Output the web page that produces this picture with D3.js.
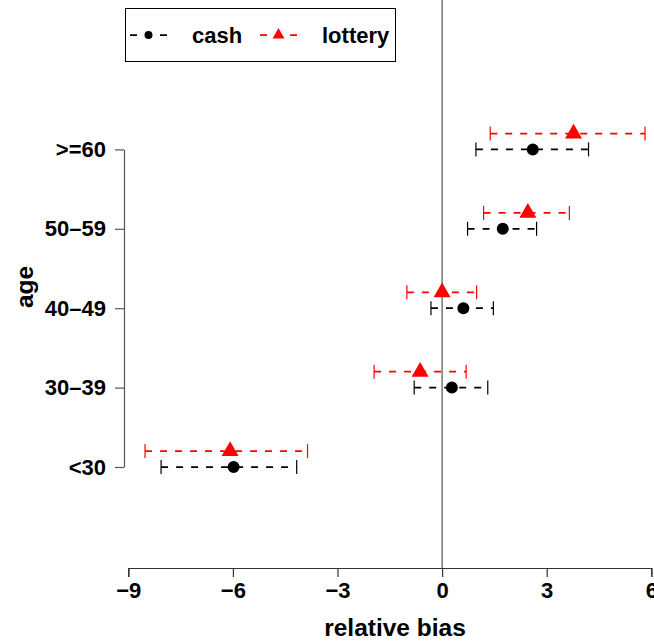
<!DOCTYPE html>
<html>
<head>
<meta charset="utf-8">
<script src="https://cdn.jsdelivr.net/npm/d3@7"></script>
<style>
  html, body { margin: 0; padding: 0; background: #fff; }
  svg text { font-family: "Liberation Sans", Arial, Helvetica, sans-serif; font-weight: bold; }
</style>
</head>
<body>
<svg id="chart" width="654" height="641"></svg>
<script>
// Age groups, bottom to top
const ageGroups = ["<30", "30\u201339", "40\u201349", "50\u201359", ">=60"];

// Relative bias estimates and interval bounds, cash incentive
const cashEst = [-5.98, 0.28, 0.61, 1.74, 2.60];
const cashLo  = [-8.06, -0.80, -0.32, 0.73, 0.97];
const cashHi  = [-4.17, 1.31, 1.47, 2.71, 4.20];

// Relative bias estimates and interval bounds, lottery incentive
const lotEst = [-6.08, -0.63, 0.00, 2.46, 3.77];
const lotLo  = [-8.52, -1.95, -1.01, 1.19, 1.38];
const lotHi  = [-3.86, 0.69, 0.99, 3.65, 5.82];

const xTicks = [-9, -6, -3, 0, 3, 6];
const seriesNames = ["cash", "lottery"];
const seriesColors = ["#000000", "#ff0000"];

const svg = d3.select("#chart");
const FS = 22;      // tick and legend labels
const FS_LAB = 24.5; // axis titles

const x = d3.scaleLinear().domain([-9, 6]).range([128.3, 651.3]);
// category positions; the lottery row sits 0.2 above the cash row
const y = d3.scaleLinear().domain([0, 4]).range([467, 149.4]);
const plotTop = 0, plotBottom = 568;

// reference line at zero bias
svg.append("line")
  .attr("x1", x(0)).attr("x2", x(0))
  .attr("y1", plotTop).attr("y2", plotBottom)
  .attr("stroke", "#555").attr("stroke-width", 1.2);

// x axis
const xAxis = svg.append("g").attr("transform", `translate(0,${plotBottom})`)
  .call(d3.axisBottom(x).tickValues(xTicks).tickSize(9).tickPadding(5)
    .tickFormat(d => d < 0 ? "\u2212" + Math.abs(d) : String(d)));
xAxis.select(".domain").attr("stroke", "#333").attr("stroke-width", 1.2);
xAxis.selectAll(".tick line").attr("stroke", "#333").attr("stroke-width", 1.2);
xAxis.selectAll("text").attr("font-size", FS).attr("fill", "#000")
  .style("font-family", "'Liberation Sans', Arial, sans-serif").style("font-weight", "bold");
xAxis.attr("font-family", null).attr("font-size", null);

// y axis
const yAxis = svg.append("g").attr("transform", "translate(124,0)")
  .call(d3.axisLeft(y).tickValues([0, 1, 2, 3, 4]).tickSize(9).tickSizeOuter(0).tickPadding(9)
    .tickFormat(i => ageGroups[i]));
yAxis.select(".domain").attr("stroke", "#555").attr("stroke-width", 1.2);
yAxis.selectAll(".tick line").attr("stroke", "#555").attr("stroke-width", 1.2);
yAxis.selectAll("text").attr("font-size", FS).attr("fill", "#000")
  .style("font-family", "'Liberation Sans', Arial, sans-serif").style("font-weight", "bold");
yAxis.attr("font-family", null).attr("font-size", null);

// axis titles
svg.append("text").attr("x", 395).attr("y", 636)
  .attr("text-anchor", "middle").attr("font-size", FS_LAB).text("relative bias");
svg.append("text").attr("transform", "translate(33,287) rotate(-90)")
  .attr("text-anchor", "middle").attr("font-size", FS_LAB).text("age");

// interval bars and point estimates
const series = [
  { est: cashEst, lo: cashLo, hi: cashHi, off: 0, color: seriesColors[0], shape: d3.symbolCircle, size: 113 },
  { est: lotEst, lo: lotLo, hi: lotHi, off: 0.2, color: seriesColors[1], shape: d3.symbolTriangle, size: 125 }
];
const CAP = 7;
series.forEach(s => {
  const g = svg.append("g");
  ageGroups.forEach((_, i) => {
    const yy = y(i + s.off);
    g.append("line")
      .attr("x1", x(s.lo[i])).attr("x2", x(s.hi[i]))
      .attr("y1", yy).attr("y2", yy)
      .attr("stroke", s.color).attr("stroke-width", 1.75)
      .attr("stroke-dasharray", "7,8");
    [s.lo[i], s.hi[i]].forEach(v => {
      g.append("line")
        .attr("x1", x(v)).attr("x2", x(v))
        .attr("y1", yy - CAP).attr("y2", yy + CAP)
        .attr("stroke", s.color).attr("stroke-width", 1.2);
    });
    g.append("path")
      .attr("d", d3.symbol().type(s.shape).size(s.size)())
      .attr("transform", `translate(${x(s.est[i])},${yy})`)
      .attr("fill", s.color);
  });
});

// legend
const lg = svg.append("g");
lg.append("rect").attr("x", 125.5).attr("y", 8.5).attr("width", 270).attr("height", 53)
  .attr("fill", "#fff").attr("stroke", "#000").attr("stroke-width", 1);
const legendItems = [
  { x0: 130, text: 192, shape: d3.symbolCircle, size: 50 },
  { x0: 260, text: 322, shape: d3.symbolTriangle, size: 62 }
];
legendItems.forEach((it, k) => {
  const ly = 35;
  lg.append("line").attr("x1", it.x0).attr("x2", it.x0 + 37)
    .attr("y1", ly).attr("y2", ly)
    .attr("stroke", seriesColors[k]).attr("stroke-width", 1.75)
    .attr("stroke-dasharray", "7,8");
  lg.append("path").attr("d", d3.symbol().type(it.shape).size(it.size)())
    .attr("transform", `translate(${it.x0 + 18.5},${ly})`).attr("fill", seriesColors[k]);
  lg.append("text").attr("x", it.text).attr("y", ly + 8).attr("font-size", FS)
    .attr("fill", "#000").text(seriesNames[k]);
});
</script>
</body>
</html>
